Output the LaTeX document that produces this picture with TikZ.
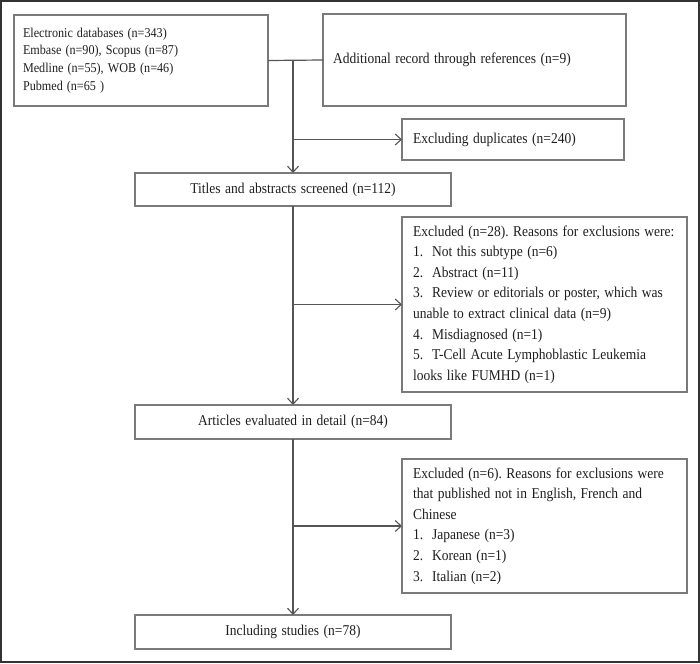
\documentclass[tikz,border=0pt]{standalone}
\usepackage{graphicx}
\usepackage{fontspec}
\setmainfont{Liberation Serif}
\frenchspacing
\usetikzlibrary{arrows.meta}
\definecolor{boxgray}{HTML}{7A7A7A}
\definecolor{linegray}{HTML}{555555}
\definecolor{txt}{HTML}{1E1E1E}
\definecolor{framec}{HTML}{333333}
\newcommand{\myln}[1]{\scalebox{0.9}[1]{#1}}
\begin{document}
\begin{tikzpicture}[x=1pt,y=-1pt,
  box/.style={draw=boxgray, line width=1.3pt, outer sep=0pt, anchor=north west,
    text=txt, inner ysep=0pt, font=\fontsize{15}{20.6}\selectfont},
  smallbox/.style={box, font=\fontsize{13.5}{17.6}\selectfont},
  arr/.style={draw=linegray, line width=1.2pt, -{Straight Barb[length=6pt,width=11pt,line width=1.1pt]}},
  conn/.style={draw=linegray, line width=1.2pt}]
\useasboundingbox (0,0) rectangle (700,663);
\draw[framec, line width=2pt] (1,1) rectangle (699,662);

\node[smallbox, minimum width=254pt, minimum height=91pt, inner xsep=9pt, text width=236pt, align=left]
  (db) at (14,15) {\myln{Electronic databases (n=343)}\\\myln{Embase (n=90), Scopus (n=87)}\\\myln{Medline (n=55), WOB (n=46)}\\\myln{Pubmed (n=65 )}};
\node[box, minimum width=303pt, minimum height=92pt, inner xsep=10pt, text width=283pt, align=left]
  (add) at (323,14) {\myln{Additional record through references (n=9)}};
\node[box, minimum width=222pt, minimum height=41pt, inner xsep=11pt, text width=200pt, align=left]
  (dup) at (402,119) {\myln{Excluding duplicates (n=240)}};
\node[box, minimum width=316pt, minimum height=33pt, inner xsep=10pt, text width=296pt, align=center]
  (tit) at (135,173) {\myln{Titles and abstracts screened (n=112)}};
\node[box, minimum width=285pt, minimum height=175pt, inner xsep=11pt, text width=263pt, align=left]
  (ex1) at (402,217) {\myln{Excluded (n=28). Reasons for exclusions were:}\\\myln{1.\ \ Not this subtype (n=6)}\\\myln{2.\ \ Abstract (n=11)}\\\myln{3.\ \ Review or editorials or poster, which was}\\\myln{unable to extract clinical data (n=9)}\\\myln{4.\ \ Misdiagnosed (n=1)}\\\myln{5.\ \ T-Cell Acute Lymphoblastic Leukemia}\\\myln{looks like FUMHD (n=1)}};
\node[box, minimum width=316pt, minimum height=34pt, inner xsep=10pt, text width=296pt, align=center]
  (art) at (135,405) {\myln{Articles evaluated in detail (n=84)}};
\node[box, minimum width=285pt, minimum height=134pt, inner xsep=11pt, text width=263pt, align=left]
  (ex2) at (402,459) {\myln{Excluded (n=6). Reasons for exclusions were}\\\myln{that published not in English, French and}\\\myln{Chinese}\\\myln{1.\ \ Japanese (n=3)}\\\myln{2.\ \ Korean (n=1)}\\\myln{3.\ \ Italian (n=2)}};
\node[box, minimum width=316pt, minimum height=34pt, inner xsep=10pt, text width=296pt, align=center]
  (inc) at (135,615) {\myln{Including studies (n=78)}};

\draw[conn] (db.east) -- (add.west);
\draw[arr] (db.east -| tit.north) -- (tit.north);
\draw[arr] (dup.west -| tit.north) -- (dup.west);
\draw[arr] (tit.south) -- (art.north);
\draw[arr] (ex1.west -| tit.south) -- (ex1.west);
\draw[arr] (art.south) -- (inc.north);
\draw[arr] (ex2.west -| art.south) -- (ex2.west);
\end{tikzpicture}
\end{document}
